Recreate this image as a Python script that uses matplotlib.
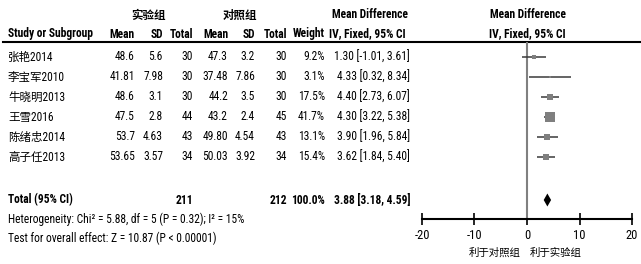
import matplotlib
matplotlib.use("Agg")
import matplotlib.pyplot as plt
from matplotlib import font_manager

# narrow latin face, CJK fallback for the study names
names = {f.name for f in font_manager.fontManager.ttflist}
if "Roboto Condensed" in names:
    latin = "Roboto Condensed"
else:
    latin = "DejaVu Sans"
    plt.rcParams["font.stretch"] = "condensed"
plt.rcParams["font.family"] = [latin, "Noto Sans CJK SC", "DejaVu Sans"]
plt.rcParams["font.size"] = 8.3

studies = ["张艳2014", "李宝军2010", "牛晓明2013", "王雪2016", "陈绪忠2014", "高子任2013"]
exp_mean = ["48.6", "41.81", "48.6", "47.5", "53.7", "53.65"]
exp_sd = ["5.6", "7.98", "3.1", "2.8", "4.63", "3.57"]
exp_n = [30, 30, 30, 44, 43, 34]
ctl_mean = ["47.3", "37.48", "44.2", "43.2", "49.80", "50.03"]
ctl_sd = ["3.2", "7.86", "3.5", "2.4", "4.54", "3.92"]
ctl_n = [30, 30, 30, 45, 43, 34]
weight = [9.2, 3.1, 17.5, 41.7, 13.1, 15.4]
md = [1.30, 4.33, 4.40, 4.30, 3.90, 3.62]
lo = [-1.01, 0.32, 2.73, 3.22, 1.96, 1.84]
hi = [3.61, 8.34, 6.07, 5.38, 5.84, 5.40]

total_md, total_lo, total_hi = 3.88, 3.18, 4.59
total_exp, total_ctl = 211, 212
xticks = [-20, -10, 0, 10, 20]

W, H = 641, 264
fig = plt.figure(figsize=(W / 100, H / 100), dpi=100)
ax = fig.add_axes([0, 0, 1, 1])
ax.set_xlim(0, W)
ax.set_ylim(H, 0)
ax.axis("off")

row_y = [57, 77, 97, 117, 137, 157]
total_y = 200
cols = {"mean1": 135, "sd1": 163, "n1": 193, "mean2": 228, "sd2": 255, "n2": 287, "w": 325, "ci": 410}

# header
ax.text(148, 15, "实验组", ha="center", va="center", fontweight="bold", fontsize=8.3)
ax.text(240, 15, "对照组", ha="center", va="center", fontweight="bold", fontsize=8.3)
ax.text(370, 15, "Mean Difference", ha="center", va="center", fontweight="bold")
ax.text(528, 15, "Mean Difference", ha="center", va="center", fontweight="bold")
ax.text(8, 34, "Study or Subgroup", ha="left", va="center", fontweight="bold")
for key, lab in [("mean1", "Mean"), ("sd1", "SD"), ("n1", "Total"), ("mean2", "Mean"),
                 ("sd2", "SD"), ("n2", "Total"), ("w", "Weight")]:
    ax.text(cols[key], 34, lab, ha="right", va="center", fontweight="bold")
ax.text(367, 34, "IV, Fixed, 95% CI", ha="center", va="center", fontweight="bold")
ax.text(527, 34, "IV, Fixed, 95% CI", ha="center", va="center", fontweight="bold")
ax.plot([3, W], [42, 42], color="black", lw=1.5)

# study rows
for i, y in enumerate(row_y):
    ax.text(8, y, studies[i], ha="left", va="center")
    vals = [exp_mean[i], exp_sd[i], str(exp_n[i]), ctl_mean[i], ctl_sd[i], str(ctl_n[i]),
            "%.1f%%" % weight[i], "%.2f [%.2f, %.2f]" % (md[i], lo[i], hi[i])]
    for key, v in zip(["mean1", "sd1", "n1", "mean2", "sd2", "n2", "w", "ci"], vals):
        ax.text(cols[key], y, v, ha="right", va="center")

# total row
ax.text(8, total_y, "Total (95% CI)", ha="left", va="center", fontweight="bold")
ax.text(cols["n1"], total_y, str(total_exp), ha="right", va="center", fontweight="bold")
ax.text(cols["n2"], total_y, str(total_ctl), ha="right", va="center", fontweight="bold")
ax.text(cols["w"], total_y, "100.0%", ha="right", va="center", fontweight="bold")
ax.text(cols["ci"], total_y, "%.2f [%.2f, %.2f]" % (total_md, total_lo, total_hi),
        ha="right", va="center", fontweight="bold")
ax.text(8, 219, "Heterogeneity: Chi² = 5.88, df = 5 (P = 0.32); I² = 15%", ha="left", va="center")
ax.text(8, 238, "Test for overall effect: Z = 10.87 (P < 0.00001)", ha="left", va="center")

# forest panel: x in mean difference units, y in pixel rows
x0, x1, ytop, ybot = 422, 632, 42, 219
fx = fig.add_axes([x0 / W, (H - ybot) / H, (x1 - x0) / W, (ybot - ytop) / H])
fx.set_xlim(-20, 20)
fx.set_ylim(ybot, ytop)
fx.patch.set_visible(False)
for s in ["top", "left", "right"]:
    fx.spines[s].set_visible(False)
fx.spines["bottom"].set_linewidth(1.5)
fx.set_yticks([])
fx.set_xticks(xticks)
fx.set_xticklabels([str(t) for t in xticks])
fx.tick_params(axis="x", direction="inout", length=9, width=1.2, pad=2.5, labelsize=9)
fx.axvline(0, color="#808080", lw=1.5)

for i, y in enumerate(row_y):
    fx.plot([lo[i], hi[i]], [y, y], color="#3a3a3a", lw=1.1, solid_capstyle="butt")
    fx.plot(md[i], y, marker="s", color="#7f7f7f", markersize=7.2 * (weight[i] / 41.7) ** 0.5, mew=0)

fx.fill([total_lo, total_md, total_hi, total_md], [total_y, total_y - 6.5, total_y, total_y + 6.5],
        color="black", lw=0)

ax.text(495, 253, "利于对照组", ha="center", va="center", fontsize=7.5)
ax.text(556, 253, "利于实验组", ha="center", va="center", fontsize=7.5)

fig.savefig("out.png", dpi=100)
